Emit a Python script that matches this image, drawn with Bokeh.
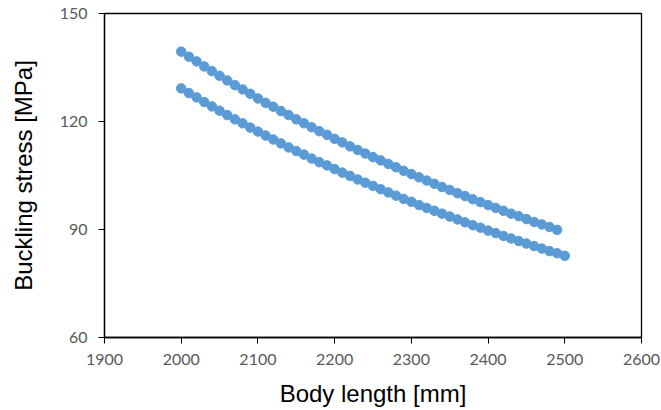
from bokeh.plotting import figure
from bokeh.embed import file_html
from bokeh.resources import INLINE
from bokeh.models import Range1d, FixedTicker

length_upper = list(range(2000, 2500, 10))
stress_upper = [139.4, 138.0, 136.7, 135.3, 134.0, 132.7, 131.4, 130.1, 128.9, 127.7,
                126.4, 125.2, 124.1, 122.9, 121.8, 120.6, 119.5, 118.4, 117.3, 116.3,
                115.2, 114.2, 113.1, 112.1, 111.1, 110.1, 109.2, 108.2, 107.3, 106.3,
                105.4, 104.5, 103.6, 102.7, 101.8, 101.0, 100.1, 99.3, 98.4, 97.6,
                96.8, 96.0, 95.2, 94.4, 93.7, 92.9, 92.1, 91.4, 90.7, 89.9]

length_lower = list(range(2000, 2510, 10))
stress_lower = [129.2, 127.9, 126.7, 125.4, 124.2, 123.0, 121.8, 120.6, 119.5, 118.3,
                117.2, 116.1, 115.0, 113.9, 112.8, 111.8, 110.8, 109.7, 108.7, 107.8,
                106.8, 105.8, 104.9, 103.9, 103.0, 102.1, 101.2, 100.3, 99.4, 98.5,
                97.7, 96.8, 96.0, 95.2, 94.4, 93.6, 92.8, 92.0, 91.2, 90.5,
                89.7, 89.0, 88.2, 87.5, 86.8, 86.1, 85.4, 84.7, 84.0, 83.4, 82.7]

x_ticks = [1900, 2000, 2100, 2200, 2300, 2400, 2500, 2600]
y_ticks = [60, 90, 120, 150]

p = figure(width=661, height=410, output_backend="svg", toolbar_location=None,
           x_range=Range1d(1900, 2600), y_range=Range1d(60, 150),
           min_border_left=104, min_border_right=20, min_border_top=13, min_border_bottom=73)

p.scatter(length_upper, stress_upper, size=9.5, color="#5B9BD5")
p.scatter(length_lower, stress_lower, size=9.5, color="#5B9BD5")

p.xgrid.visible = False
p.ygrid.visible = False
p.outline_line_color = "black"
p.outline_line_width = 1.3
p.outline_line_alpha = 1

for ax in (p.xaxis[0], p.yaxis[0]):
    ax.axis_line_color = "black"
    ax.axis_line_width = 1.3
    ax.major_tick_line_color = "black"
    ax.major_tick_line_width = 1
    ax.major_tick_in = 0
    ax.major_tick_out = 6
    ax.minor_tick_line_color = None
    ax.major_label_text_color = "#595959"
    ax.major_label_text_font = "Lato"
    ax.major_label_text_font_size = "16px"
    ax.axis_label_text_font = "Liberation Sans"
    ax.axis_label_text_font_size = "24px"
    ax.axis_label_text_font_style = "normal"
    ax.axis_label_text_color = "black"

p.xaxis[0].ticker = FixedTicker(ticks=x_ticks)
p.yaxis[0].ticker = FixedTicker(ticks=y_ticks)
p.xaxis[0].axis_label = "Body length [mm]"
p.yaxis[0].axis_label = "Buckling stress [MPa]"
p.xaxis[0].major_label_standoff = 10
p.yaxis[0].major_label_standoff = 11
p.xaxis[0].axis_label_standoff = 12
p.yaxis[0].axis_label_standoff = 20

open("out.html", "w").write(file_html(p, INLINE))
